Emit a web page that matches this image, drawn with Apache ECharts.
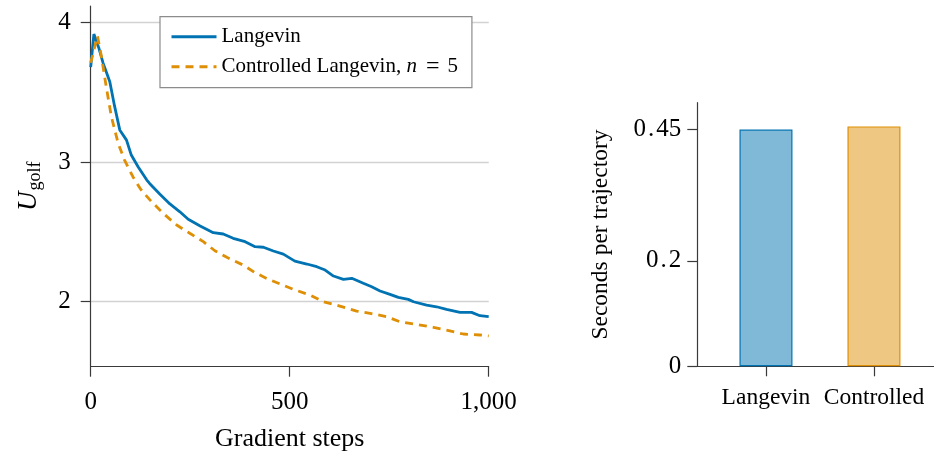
<!DOCTYPE html>
<html>
<head>
<meta charset="utf-8">
<script src="https://cdn.jsdelivr.net/npm/echarts@6/dist/echarts.min.js"></script>
<style>
html,body{margin:0;padding:0;background:#fff;}
#c{width:934px;height:452px;}
</style>
</head>
<body>
<div id="c"></div>
<script>
// ---- data ----
const seriesNames = ['Langevin', 'Controlled Langevin, n = 5'];
const langevinSteps = [0,8,20,31,48,60,73,90,102,119,141,148,174,199,224,245,275,308,333,358,388,413,434,459,484,513,543,568,589,610,635,656,685,706,727,752,773,798,811,844,869,894,928,957,978,1000];
const langevinU = [3.68,3.916,3.82,3.71,3.575,3.40,3.23,3.157,3.05,2.966,2.871,2.847,2.77,2.70,2.644,2.59,2.542,2.494,2.485,2.454,2.43,2.394,2.39,2.363,2.341,2.291,2.27,2.251,2.227,2.184,2.16,2.168,2.132,2.107,2.077,2.053,2.031,2.017,2.0,1.976,1.964,1.945,1.924,1.924,1.9,1.893];
const controlledSteps = [0,17,27,39,52,69,85,106,124,131,153,182,216,249,283,312,342,383,413,442,476,509,551,584,626,668,702,744,777,819,861,894,936,978,1000];
const controlledU = [3.71,3.902,3.754,3.539,3.324,3.134,3.014,2.895,2.812,2.787,2.716,2.633,2.549,2.49,2.43,2.365,2.318,2.263,2.208,2.167,2.127,2.089,2.048,2.0,1.969,1.933,1.917,1.893,1.857,1.838,1.817,1.797,1.769,1.762,1.755];
const leftYTicks = [2, 3, 4];
const barCategories = ['Langevin', 'Controlled'];
const barSeconds = [0.449, 0.455];
const rightYTicks = [0, 0.2, 0.45];

const FONT = "'Liberation Serif','Times New Roman',serif";
const BLUE = '#0173B2', ORANGE = '#DE8F05';
const BLUE_FILL = '#80B9D8', ORANGE_FILL = '#EEC782';
const AX = '#3a3a3a';

const pair = (xs, ys) => xs.map((x, i) => [x, ys[i]]);

function decimalRich(v) {
  const s = String(v);
  const k = s.indexOf('.');
  if (k < 0) return '{d|' + s + '}';
  return '{d|' + s.slice(0, k) + '}{p|.}{d|' + s.slice(k + 1) + '}';
}

const chart = echarts.init(document.getElementById('c'), null, {renderer: 'canvas'});
chart.setOption({
  animation: false,
  textStyle: {fontFamily: FONT, color: '#000'},
  grid: [
    {left: 90.7, right: 445.3, top: 6, bottom: 85.3, containLabel: false, outerBoundsMode: 'none'},
    {left: 697.3, right: 0, top: 102.7, bottom: 85.7, containLabel: false, outerBoundsMode: 'none'}
  ],
  legend: {
    data: seriesNames,
    orient: 'vertical',
    left: 160, top: 16.7,
    padding: [9, 14, 9, 10],
    itemWidth: 45, itemHeight: 14, itemGap: 7,
    backgroundColor: '#fff',
    borderColor: '#8c8c8c', borderWidth: 1.2, borderRadius: 0,
    itemStyle: {opacity: 0},
    lineStyle: {width: 3},
    textStyle: {
      fontFamily: FONT, fontSize: 21, color: '#000', lineHeight: 22,
      rich: {
        a: {fontFamily: FONT, fontSize: 21, color: '#000', lineHeight: 22},
        i: {fontFamily: FONT, fontSize: 21, color: '#000', lineHeight: 22, fontStyle: 'italic', padding: [0, 1, 0, 0]},
        e: {fontFamily: FONT, fontSize: 24, color: '#000', lineHeight: 22, padding: [0, 8, 0, 8]}
      }
    },
    formatter: function (name) {
      const m = name.match(/^(.*, )n = (.*)$/);
      if (m) return '{a|' + m[1] + '}{i|n}{e|=}{a|' + m[2] + '}';
      return '{a|' + name + '}';
    }
  },
  xAxis: [
    {
      gridIndex: 0, type: 'value', min: 0, max: 1000, interval: 500,
      name: 'Gradient steps', nameLocation: 'middle', nameGap: 59,
      nameTextStyle: {fontFamily: FONT, fontSize: 26, color: '#000'},
      axisLine: {show: true, lineStyle: {color: AX, width: 1.2}},
      axisTick: {show: true, inside: false, length: 10, lineStyle: {color: AX, width: 1.2}},
      axisLabel: {fontFamily: FONT, fontSize: 25, color: '#000', margin: 23,
        formatter: v => v >= 1000 ? (Math.floor(v / 1000) + ',' + String(v % 1000).padStart(3, '0')) : String(v)},
      splitLine: {show: false}
    },
    {
      gridIndex: 1, type: 'value', min: -0.636, max: 1.556,
      axisLine: {show: true, onZero: false, lineStyle: {color: AX, width: 1.2}},
      axisTick: {show: true, inside: false, length: 10, customValues: [0, 1], lineStyle: {color: AX, width: 1.2}},
      axisLabel: {fontFamily: FONT, fontSize: 23.5, color: '#000', margin: 20, customValues: [0, 1],
        formatter: v => barCategories[Math.round(v)] || ''},
      splitLine: {show: false}
    }
  ],
  yAxis: [
    {
      gridIndex: 0, type: 'value', min: 1.535, max: 4.117,
      name: '{u|U}{s|golf}', nameLocation: 'middle', nameGap: 46,
      nameTextStyle: {
        rich: {
          u: {fontFamily: FONT, fontSize: 27, fontStyle: 'italic', color: '#000'},
          s: {fontFamily: FONT, fontSize: 18, color: '#000', padding: [14, 0, 0, 1]}
        }
      },
      axisLine: {show: true, onZero: false, lineStyle: {color: AX, width: 1.2}},
      axisTick: {show: true, inside: false, length: 10, customValues: leftYTicks, lineStyle: {color: AX, width: 1.2}},
      axisLabel: {fontFamily: FONT, fontSize: 25, color: '#000', margin: 20, customValues: leftYTicks,
        formatter: v => String(v)},
      splitLine: {show: true, lineStyle: {color: '#d2d2d2', width: 1.3}}
    },
    {
      gridIndex: 1, type: 'value', min: 0, max: 0.5,
      name: 'Seconds per trajectory', nameLocation: 'middle', nameGap: 84,
      nameTextStyle: {fontFamily: FONT, fontSize: 23.5, color: '#000'},
      axisLine: {show: true, onZero: false, lineStyle: {color: AX, width: 1.2}},
      axisTick: {show: true, inside: false, length: 10, customValues: rightYTicks, lineStyle: {color: AX, width: 1.2}},
      axisLabel: {fontFamily: FONT, color: '#000', margin: 16, customValues: rightYTicks,
        formatter: v => decimalRich(v),
        rich: {
          d: {fontFamily: FONT, fontSize: 25, color: '#000'},
          p: {fontFamily: FONT, fontSize: 25, color: '#000', padding: [0, 2, 0, 2]}
        }},
      splitLine: {show: false}
    }
  ],
  series: [
    {
      name: seriesNames[0], type: 'line', xAxisIndex: 0, yAxisIndex: 0,
      data: pair(langevinSteps, langevinU), symbol: 'none', smooth: false,
      lineStyle: {color: BLUE, width: 2.8}, itemStyle: {color: BLUE}, z: 2
    },
    {
      name: seriesNames[1], type: 'line', xAxisIndex: 0, yAxisIndex: 0,
      data: pair(controlledSteps, controlledU), symbol: 'none', smooth: false,
      lineStyle: {color: ORANGE, width: 2.8, type: [8, 6]}, itemStyle: {color: ORANGE}, z: 3
    },
    {
      name: 'time', type: 'bar', xAxisIndex: 1, yAxisIndex: 1, barWidth: 53,
      data: barSeconds.map((v, i) => ({
        value: [i, v],
        itemStyle: {color: i === 0 ? BLUE_FILL : ORANGE_FILL, borderColor: i === 0 ? BLUE : ORANGE, borderWidth: 1.2}
      }))
    }
  ]
});
</script>
</body>
</html>
